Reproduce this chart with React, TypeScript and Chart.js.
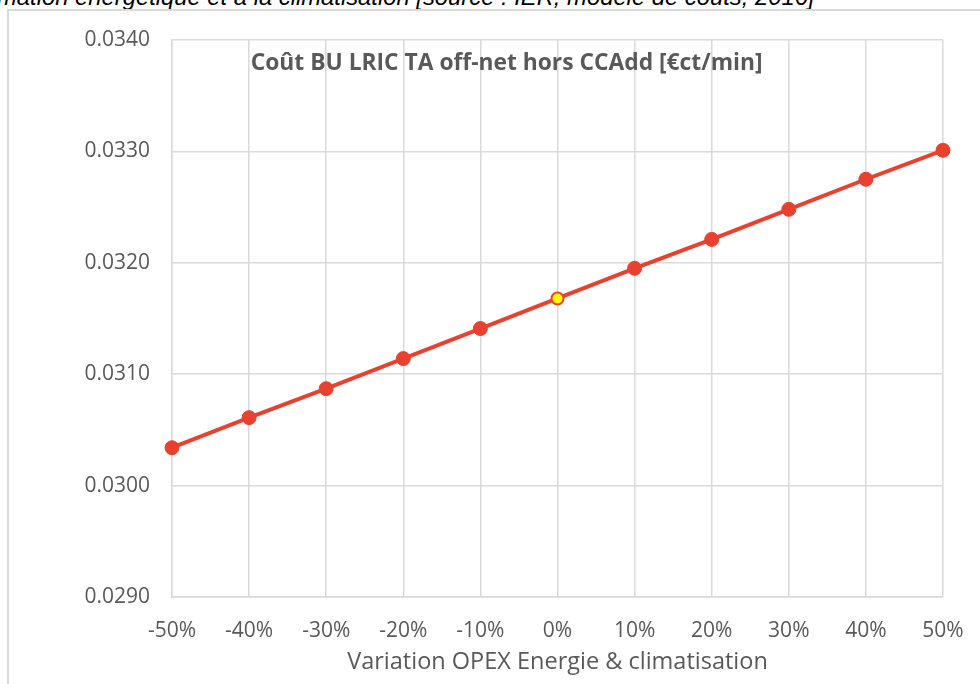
import React, { useEffect, useRef } from "react";
import { Chart, registerables } from "chart.js";

Chart.register(...registerables);

const categories = ["-50%", "-40%", "-30%", "-20%", "-10%", "0%", "10%", "20%", "30%", "40%", "50%"];
const costValues = [0.03034, 0.03061, 0.03087, 0.03114, 0.03141, 0.03168, 0.03195, 0.03221, 0.03248, 0.03275, 0.03301];
const yTicks = [0.029, 0.03, 0.031, 0.032, 0.033, 0.034];
const highlightCategory = "0%";
const chartTitle = "Coût BU LRIC TA off-net hors CCAdd [€ct/min]";
const xAxisTitle = "Variation OPEX Energie & climatisation";
const captionText = "mation énergétique et à la climatisation [source : IER, modèle de coûts, 2016]";

const RED = "#E8412F";
const GREY_TEXT = "#595959";
const GRID = "#d9d9d9";
const FONT = "'Open Sans', sans-serif";

const inPlotTitle = {
  id: "inPlotTitle",
  afterDraw(chart: any) {
    const { ctx, chartArea } = chart;
    ctx.save();
    ctx.font = `bold 22.8px ${FONT}`;
    ctx.fillStyle = GREY_TEXT;
    ctx.textAlign = "center";
    ctx.textBaseline = "middle";
    ctx.fillText(chartTitle, chartArea.left + chartArea.width * 0.434, chartArea.top + 24);
    ctx.restore();
  },
};

export default function App() {
  const ref = useRef<HTMLCanvasElement | null>(null);

  useEffect(() => {
    if (!ref.current) return;
    const chart = new Chart(ref.current, {
      type: "line",
      data: {
        labels: categories,
        datasets: [
          {
            data: costValues,
            borderColor: RED,
            borderWidth: 4,
            pointRadius: (c: any) => (categories[c.dataIndex] === highlightCategory ? 6 : 7),
            pointHoverRadius: 7,
            pointBackgroundColor: (c: any) => (categories[c.dataIndex] === highlightCategory ? "#FFFF00" : RED),
            pointBorderColor: RED,
            pointBorderWidth: (c: any) => (categories[c.dataIndex] === highlightCategory ? 2 : 1),
            tension: 0,
            clip: false as any,
          },
        ],
      },
      options: {
        animation: false,
        responsive: false,
        maintainAspectRatio: false,
        layout: { padding: { left: 0, right: 37, top: 40, bottom: 0 } },
        plugins: { legend: { display: false }, tooltip: { enabled: false }, title: { display: false } },
        scales: {
          x: {
            type: "category",
            offset: false,
            grid: { color: GRID, lineWidth: 1.5, drawTicks: false },
            border: { color: GRID, width: 1.5 },
            ticks: { color: GREY_TEXT, font: { family: FONT, size: 21 }, padding: 21, maxRotation: 0 },
            title: {
              display: true,
              text: xAxisTitle,
              color: GREY_TEXT,
              font: { family: FONT, size: 23.5 },
              padding: { top: 4, bottom: 8 },
            },
            afterFit: (s: any) => {
              s.height = 87;
              s.paddingLeft = 0;
              s.paddingRight = 0;
            },
          },
          y: {
            min: 0.029,
            max: 0.034,
            grid: { color: GRID, lineWidth: 1.5, drawTicks: false },
            border: { color: GRID, width: 1.5 },
            afterBuildTicks: (s: any) => {
              s.ticks = yTicks.map((v) => ({ value: v }));
            },
            ticks: {
              color: GREY_TEXT,
              font: { family: FONT, size: 21 },
              padding: 22,
              callback: (v: any) => Number(v).toFixed(4),
            },
            afterFit: (s: any) => {
              s.width = 172;
              s.paddingTop = 0;
              s.paddingBottom = 0;
            },
          },
        },
      },
      plugins: [inPlotTitle],
    });
    return () => chart.destroy();
  }, []);

  return (
    <div style={{ position: "absolute", left: 0, top: 0, width: 980, height: 684, overflow: "hidden", background: "#fff" }}>
      <div
        style={{
          position: "absolute",
          left: -3,
          top: -17,
          fontFamily: "'Liberation Sans', Arial, sans-serif",
          fontStyle: "italic",
          fontSize: 23.8,
          color: "#000",
          whiteSpace: "nowrap",
          lineHeight: "28px",
        }}
      >
        {captionText}
      </div>
      <div
        style={{
          position: "absolute",
          left: 7,
          top: 9,
          width: 980,
          height: 700,
          borderLeft: "2px solid #d9d9d9",
          borderTop: "2px solid #d9d9d9",
        }}
      />
      <canvas ref={ref} width={980} height={684} style={{ position: "absolute", left: 0, top: 0 }} />
    </div>
  );
}
